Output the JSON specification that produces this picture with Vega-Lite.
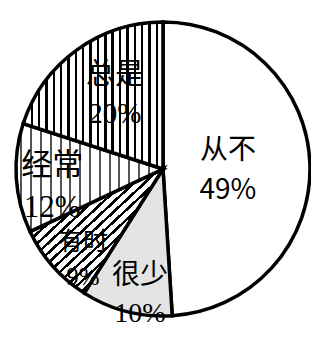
{
  "$schema": "https://vega.github.io/schema/vega-lite/v6.json",
  "width": 311,
  "height": 338,
  "autosize": {"type": "fit", "contains": "padding"},
  "padding": {"left": 15, "top": 0, "right": 0, "bottom": 0},
  "background": "white",
  "view": {"stroke": null},
  "data": {
    "values": [
      {"k": "从不", "v": 49, "o": 1, "label": "从不\n49%"},
      {"k": "很少", "v": 10, "o": 2, "label": "很少\n10%"},
      {"k": "有时", "v": 9, "o": 3, "label": "有时\n9%"},
      {"k": "经常", "v": 12, "o": 4, "label": "经常\n12%"},
      {"k": "总是", "v": 20, "o": 5, "label": "总是\n20%"}
    ]
  },
  "encoding": {
    "theta": {"field": "v", "type": "quantitative", "stack": true},
    "order": {"field": "o", "type": "quantitative"}
  },
  "layer": [
    {
      "mark": {"type": "arc", "outerRadius": 147, "stroke": "#000", "strokeWidth": 3.5},
      "encoding": {
        "fill": {
          "condition": [
            {
              "test": "datum.k === '总是'",
              "value": {
                "gradient": "linear", "x1": 0, "y1": 0, "x2": 1, "y2": 0,
                "stops": [
                  {"offset": 0.0, "color": "#000"}, {"offset": 0.017, "color": "#000"}, {"offset": 0.017, "color": "#fff"}, {"offset": 0.0526, "color": "#fff"},
                  {"offset": 0.0526, "color": "#000"}, {"offset": 0.0696, "color": "#000"}, {"offset": 0.0696, "color": "#fff"}, {"offset": 0.1053, "color": "#fff"},
                  {"offset": 0.1053, "color": "#000"}, {"offset": 0.1223, "color": "#000"}, {"offset": 0.1223, "color": "#fff"}, {"offset": 0.1579, "color": "#fff"},
                  {"offset": 0.1579, "color": "#000"}, {"offset": 0.1749, "color": "#000"}, {"offset": 0.1749, "color": "#fff"}, {"offset": 0.2105, "color": "#fff"},
                  {"offset": 0.2105, "color": "#000"}, {"offset": 0.2275, "color": "#000"}, {"offset": 0.2275, "color": "#fff"}, {"offset": 0.2632, "color": "#fff"},
                  {"offset": 0.2632, "color": "#000"}, {"offset": 0.2802, "color": "#000"}, {"offset": 0.2802, "color": "#fff"}, {"offset": 0.3158, "color": "#fff"},
                  {"offset": 0.3158, "color": "#000"}, {"offset": 0.3328, "color": "#000"}, {"offset": 0.3328, "color": "#fff"}, {"offset": 0.3684, "color": "#fff"},
                  {"offset": 0.3684, "color": "#000"}, {"offset": 0.3854, "color": "#000"}, {"offset": 0.3854, "color": "#fff"}, {"offset": 0.4211, "color": "#fff"},
                  {"offset": 0.4211, "color": "#000"}, {"offset": 0.4381, "color": "#000"}, {"offset": 0.4381, "color": "#fff"}, {"offset": 0.4737, "color": "#fff"},
                  {"offset": 0.4737, "color": "#000"}, {"offset": 0.4907, "color": "#000"}, {"offset": 0.4907, "color": "#fff"}, {"offset": 0.5263, "color": "#fff"},
                  {"offset": 0.5263, "color": "#000"}, {"offset": 0.5433, "color": "#000"}, {"offset": 0.5433, "color": "#fff"}, {"offset": 0.5789, "color": "#fff"},
                  {"offset": 0.5789, "color": "#000"}, {"offset": 0.5959, "color": "#000"}, {"offset": 0.5959, "color": "#fff"}, {"offset": 0.6316, "color": "#fff"},
                  {"offset": 0.6316, "color": "#000"}, {"offset": 0.6486, "color": "#000"}, {"offset": 0.6486, "color": "#fff"}, {"offset": 0.6842, "color": "#fff"},
                  {"offset": 0.6842, "color": "#000"}, {"offset": 0.7012, "color": "#000"}, {"offset": 0.7012, "color": "#fff"}, {"offset": 0.7368, "color": "#fff"},
                  {"offset": 0.7368, "color": "#000"}, {"offset": 0.7538, "color": "#000"}, {"offset": 0.7538, "color": "#fff"}, {"offset": 0.7895, "color": "#fff"},
                  {"offset": 0.7895, "color": "#000"}, {"offset": 0.8065, "color": "#000"}, {"offset": 0.8065, "color": "#fff"}, {"offset": 0.8421, "color": "#fff"},
                  {"offset": 0.8421, "color": "#000"}, {"offset": 0.8591, "color": "#000"}, {"offset": 0.8591, "color": "#fff"}, {"offset": 0.8947, "color": "#fff"},
                  {"offset": 0.8947, "color": "#000"}, {"offset": 0.9117, "color": "#000"}, {"offset": 0.9117, "color": "#fff"}, {"offset": 0.9474, "color": "#fff"},
                  {"offset": 0.9474, "color": "#000"}, {"offset": 0.9644, "color": "#000"}, {"offset": 0.9644, "color": "#fff"}, {"offset": 1.0, "color": "#fff"}
                ]
              }
            },
            {
              "test": "datum.k === '经常'",
              "value": {
                "gradient": "linear", "x1": 0, "y1": 0, "x2": 1, "y2": 0,
                "stops": [
                  {"offset": 0.0, "color": "#fff"}, {"offset": 0.03, "color": "#fff"}, {"offset": 0.03, "color": "#555"}, {"offset": 0.044, "color": "#555"}, {"offset": 0.044, "color": "#fff"},
                  {"offset": 0.0967, "color": "#fff"}, {"offset": 0.0967, "color": "#555"}, {"offset": 0.1107, "color": "#555"}, {"offset": 0.1107, "color": "#fff"},
                  {"offset": 0.1633, "color": "#fff"}, {"offset": 0.1633, "color": "#555"}, {"offset": 0.1773, "color": "#555"}, {"offset": 0.1773, "color": "#fff"},
                  {"offset": 0.23, "color": "#fff"}, {"offset": 0.23, "color": "#555"}, {"offset": 0.244, "color": "#555"}, {"offset": 0.244, "color": "#fff"},
                  {"offset": 0.2967, "color": "#fff"}, {"offset": 0.2967, "color": "#555"}, {"offset": 0.3107, "color": "#555"}, {"offset": 0.3107, "color": "#fff"},
                  {"offset": 0.3633, "color": "#fff"}, {"offset": 0.3633, "color": "#555"}, {"offset": 0.3773, "color": "#555"}, {"offset": 0.3773, "color": "#fff"},
                  {"offset": 0.43, "color": "#fff"}, {"offset": 0.43, "color": "#555"}, {"offset": 0.444, "color": "#555"}, {"offset": 0.444, "color": "#fff"},
                  {"offset": 0.4967, "color": "#fff"}, {"offset": 0.4967, "color": "#555"}, {"offset": 0.5107, "color": "#555"}, {"offset": 0.5107, "color": "#fff"},
                  {"offset": 0.5633, "color": "#fff"}, {"offset": 0.5633, "color": "#555"}, {"offset": 0.5773, "color": "#555"}, {"offset": 0.5773, "color": "#fff"},
                  {"offset": 0.63, "color": "#fff"}, {"offset": 0.63, "color": "#555"}, {"offset": 0.644, "color": "#555"}, {"offset": 0.644, "color": "#fff"},
                  {"offset": 0.6967, "color": "#fff"}, {"offset": 0.6967, "color": "#555"}, {"offset": 0.7107, "color": "#555"}, {"offset": 0.7107, "color": "#fff"},
                  {"offset": 0.7633, "color": "#fff"}, {"offset": 0.7633, "color": "#555"}, {"offset": 0.7773, "color": "#555"}, {"offset": 0.7773, "color": "#fff"},
                  {"offset": 0.83, "color": "#fff"}, {"offset": 0.83, "color": "#555"}, {"offset": 0.844, "color": "#555"}, {"offset": 0.844, "color": "#fff"},
                  {"offset": 0.8967, "color": "#fff"}, {"offset": 0.8967, "color": "#555"}, {"offset": 0.9107, "color": "#555"}, {"offset": 0.9107, "color": "#fff"},
                  {"offset": 1.0, "color": "#fff"}
                ]
              }
            },
            {
              "test": "datum.k === '有时'",
              "value": {
                "gradient": "linear", "x1": 0, "y1": 0, "x2": 1, "y2": 1,
                "stops": [
                  {"offset": 0.0, "color": "#000"}, {"offset": 0.014, "color": "#000"}, {"offset": 0.014, "color": "#fff"}, {"offset": 0.04, "color": "#fff"},
                  {"offset": 0.04, "color": "#000"}, {"offset": 0.054, "color": "#000"}, {"offset": 0.054, "color": "#fff"}, {"offset": 0.08, "color": "#fff"},
                  {"offset": 0.08, "color": "#000"}, {"offset": 0.094, "color": "#000"}, {"offset": 0.094, "color": "#fff"}, {"offset": 0.12, "color": "#fff"},
                  {"offset": 0.12, "color": "#000"}, {"offset": 0.134, "color": "#000"}, {"offset": 0.134, "color": "#fff"}, {"offset": 0.16, "color": "#fff"},
                  {"offset": 0.16, "color": "#000"}, {"offset": 0.174, "color": "#000"}, {"offset": 0.174, "color": "#fff"}, {"offset": 0.2, "color": "#fff"},
                  {"offset": 0.2, "color": "#000"}, {"offset": 0.214, "color": "#000"}, {"offset": 0.214, "color": "#fff"}, {"offset": 0.24, "color": "#fff"},
                  {"offset": 0.24, "color": "#000"}, {"offset": 0.254, "color": "#000"}, {"offset": 0.254, "color": "#fff"}, {"offset": 0.28, "color": "#fff"},
                  {"offset": 0.28, "color": "#000"}, {"offset": 0.294, "color": "#000"}, {"offset": 0.294, "color": "#fff"}, {"offset": 0.32, "color": "#fff"},
                  {"offset": 0.32, "color": "#000"}, {"offset": 0.334, "color": "#000"}, {"offset": 0.334, "color": "#fff"}, {"offset": 0.36, "color": "#fff"},
                  {"offset": 0.36, "color": "#000"}, {"offset": 0.374, "color": "#000"}, {"offset": 0.374, "color": "#fff"}, {"offset": 0.4, "color": "#fff"},
                  {"offset": 0.4, "color": "#000"}, {"offset": 0.414, "color": "#000"}, {"offset": 0.414, "color": "#fff"}, {"offset": 0.44, "color": "#fff"},
                  {"offset": 0.44, "color": "#000"}, {"offset": 0.454, "color": "#000"}, {"offset": 0.454, "color": "#fff"}, {"offset": 0.48, "color": "#fff"},
                  {"offset": 0.48, "color": "#000"}, {"offset": 0.494, "color": "#000"}, {"offset": 0.494, "color": "#fff"}, {"offset": 0.52, "color": "#fff"},
                  {"offset": 0.52, "color": "#000"}, {"offset": 0.534, "color": "#000"}, {"offset": 0.534, "color": "#fff"}, {"offset": 0.56, "color": "#fff"},
                  {"offset": 0.56, "color": "#000"}, {"offset": 0.574, "color": "#000"}, {"offset": 0.574, "color": "#fff"}, {"offset": 0.6, "color": "#fff"},
                  {"offset": 0.6, "color": "#000"}, {"offset": 0.614, "color": "#000"}, {"offset": 0.614, "color": "#fff"}, {"offset": 0.64, "color": "#fff"},
                  {"offset": 0.64, "color": "#000"}, {"offset": 0.654, "color": "#000"}, {"offset": 0.654, "color": "#fff"}, {"offset": 0.68, "color": "#fff"},
                  {"offset": 0.68, "color": "#000"}, {"offset": 0.694, "color": "#000"}, {"offset": 0.694, "color": "#fff"}, {"offset": 0.72, "color": "#fff"},
                  {"offset": 0.72, "color": "#000"}, {"offset": 0.734, "color": "#000"}, {"offset": 0.734, "color": "#fff"}, {"offset": 0.76, "color": "#fff"},
                  {"offset": 0.76, "color": "#000"}, {"offset": 0.774, "color": "#000"}, {"offset": 0.774, "color": "#fff"}, {"offset": 0.8, "color": "#fff"},
                  {"offset": 0.8, "color": "#000"}, {"offset": 0.814, "color": "#000"}, {"offset": 0.814, "color": "#fff"}, {"offset": 0.84, "color": "#fff"},
                  {"offset": 0.84, "color": "#000"}, {"offset": 0.854, "color": "#000"}, {"offset": 0.854, "color": "#fff"}, {"offset": 0.88, "color": "#fff"},
                  {"offset": 0.88, "color": "#000"}, {"offset": 0.894, "color": "#000"}, {"offset": 0.894, "color": "#fff"}, {"offset": 0.92, "color": "#fff"},
                  {"offset": 0.92, "color": "#000"}, {"offset": 0.934, "color": "#000"}, {"offset": 0.934, "color": "#fff"}, {"offset": 0.96, "color": "#fff"},
                  {"offset": 0.96, "color": "#000"}, {"offset": 0.974, "color": "#000"}, {"offset": 0.974, "color": "#fff"}, {"offset": 1.0, "color": "#fff"}
                ]
              }
            },
            {"test": "datum.k === '很少'", "value": "#e4e4e4"}
          ],
          "value": "#ffffff"
        }
      }
    },
    {
      "mark": {"type": "text", "radius": 65, "dx": 0, "dy": -16, "fontSize": 28, "font": "Noto Sans CJK SC", "lineBreak": "\n", "lineHeight": 40, "fill": "#000"},
      "encoding": {"text": {"condition": {"test": "datum.k === '从不'", "field": "label"}, "value": ""}}
    },
    {
      "mark": {"type": "text", "radius": 125, "dx": 8, "dy": -14, "fontSize": 28, "font": "Liberation Serif, Noto Sans CJK SC", "lineBreak": "\n", "lineHeight": 38, "fill": "#000"},
      "encoding": {"text": {"condition": {"test": "datum.k === '很少'", "field": "label"}, "value": ""}}
    },
    {
      "mark": {"type": "text", "radius": 120, "dx": 10, "dy": -6, "fontSize": 25, "font": "Liberation Serif, Noto Sans CJK SC", "lineBreak": "\n", "lineHeight": 35, "fill": "#000"},
      "encoding": {"text": {"condition": {"test": "datum.k === '有时'", "field": "label"}, "value": ""}}
    },
    {
      "mark": {"type": "text", "radius": 111, "dx": 0, "dy": -10, "fontSize": 31, "font": "Liberation Serif, Noto Sans CJK SC", "lineBreak": "\n", "lineHeight": 42, "fill": "#000"},
      "encoding": {"text": {"condition": {"test": "datum.k === '经常'", "field": "label"}, "value": ""}}
    },
    {
      "mark": {"type": "text", "radius": 92, "dx": 6, "dy": -20, "fontSize": 29, "font": "Liberation Serif, Noto Sans CJK SC", "lineBreak": "\n", "lineHeight": 39, "fill": "#000"},
      "encoding": {"text": {"condition": {"test": "datum.k === '总是'", "field": "label"}, "value": ""}}
    }
  ]
}
